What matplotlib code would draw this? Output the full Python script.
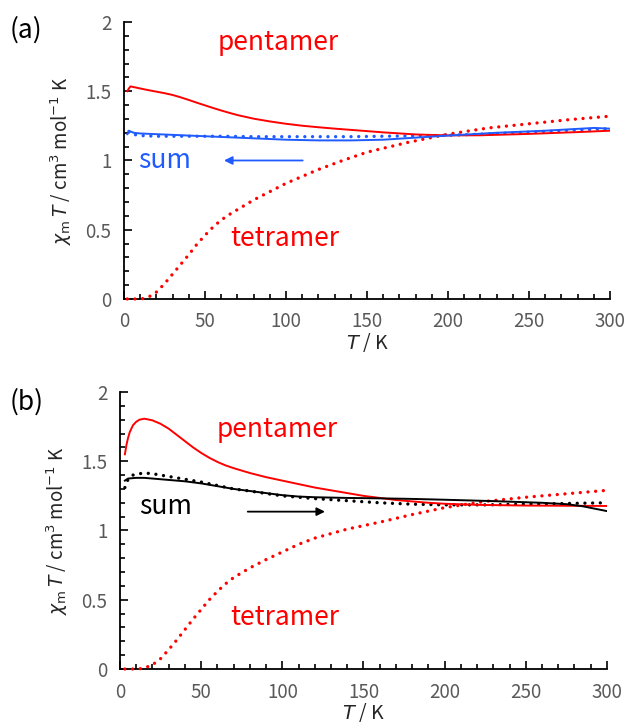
import matplotlib
matplotlib.use("Agg")
import matplotlib.pyplot as plt
from matplotlib.ticker import MultipleLocator

plt.rcParams["font.family"] = ["Noto Sans CJK JP", "DejaVu Sans"]
plt.rcParams["mathtext.fontset"] = "dejavusans"

RED = "#ff0000"
BLUE = "#1f5bff"
GRAY = "#595959"
LABEL = "#262626"

# ---- panel (a) ----
a_pent_T = [2, 3, 4, 6, 10, 15, 20, 25, 30, 35, 40, 45, 50, 55, 60, 65, 70, 80, 90, 100, 110, 120,
            130, 140, 160, 180, 200, 220, 250, 280, 300]
a_pent_v = [1.50, 1.52, 1.535, 1.53, 1.52, 1.508, 1.497, 1.486, 1.473, 1.456, 1.437, 1.417, 1.398,
            1.379, 1.361, 1.344, 1.328, 1.302, 1.282, 1.265, 1.251, 1.24, 1.23, 1.221, 1.203, 1.188,
            1.181, 1.182, 1.192, 1.205, 1.215]

a_sumfit_T = [2, 4, 6, 10, 20, 40, 60, 80, 100, 120, 140, 160, 180, 200, 230, 260, 290, 300]
a_sumfit_v = [1.19, 1.21, 1.20, 1.195, 1.19, 1.18, 1.17, 1.16, 1.15, 1.145, 1.145, 1.15, 1.165, 1.18,
              1.20, 1.215, 1.235, 1.23]

a_sum_T = [3, 5, 10, 20, 40, 60, 80, 100, 120, 140, 160, 180, 200, 220, 240, 260, 280, 300]
a_sum_v = [1.21, 1.19, 1.18, 1.175, 1.175, 1.175, 1.172, 1.172, 1.172, 1.172, 1.175, 1.178, 1.182,
           1.19, 1.20, 1.21, 1.22, 1.23]

a_tet_T = [2, 5, 10, 13, 16, 20, 25, 30, 35, 40, 45, 50, 55, 60, 65, 70, 80, 90, 100, 110, 120, 135,
           150, 175, 200, 225, 250, 275, 300]
a_tet_v = [0, 0, 0, 0.005, 0.02, 0.05, 0.11, 0.18, 0.25, 0.32, 0.395, 0.46, 0.52, 0.57, 0.61, 0.645,
           0.715, 0.775, 0.835, 0.885, 0.935, 1.00, 1.06, 1.13, 1.19, 1.235, 1.265, 1.295, 1.32]

# ---- panel (b) ----
b_pent_T = [3, 4, 5, 6, 8, 10, 12, 15, 18, 20, 25, 30, 35, 40, 45, 50, 55, 60, 65, 70, 80, 90, 100,
            110, 120, 130, 140, 150, 160, 170, 180, 190, 200, 220, 250, 300]
b_pent_v = [1.55, 1.62, 1.67, 1.71, 1.76, 1.785, 1.80, 1.807, 1.80, 1.795, 1.77, 1.735, 1.69, 1.645,
            1.60, 1.56, 1.525, 1.495, 1.47, 1.45, 1.415, 1.385, 1.36, 1.335, 1.31, 1.29, 1.27, 1.25,
            1.235, 1.22, 1.21, 1.20, 1.193, 1.185, 1.18, 1.177]

b_sumfit_T = [3, 5, 10, 15, 20, 30, 40, 50, 60, 70, 80, 90, 100, 110, 120, 140, 160, 180, 200, 230,
              260, 275, 285, 300]
b_sumfit_v = [1.36, 1.375, 1.38, 1.38, 1.375, 1.365, 1.355, 1.34, 1.32, 1.30, 1.285, 1.27, 1.255,
              1.245, 1.24, 1.235, 1.232, 1.228, 1.222, 1.212, 1.20, 1.19, 1.175, 1.14]

b_sum_T = [3, 5, 8, 12, 15, 20, 30, 40, 50, 60, 70, 80, 90, 100, 120, 140, 160, 180, 200, 225, 250,
           275, 300]
b_sum_v = [1.31, 1.37, 1.40, 1.41, 1.415, 1.41, 1.39, 1.37, 1.35, 1.325, 1.30, 1.285, 1.267, 1.25,
           1.23, 1.215, 1.20, 1.19, 1.185, 1.185, 1.19, 1.195, 1.20]

b_tet_T = [3, 10, 13, 16, 20, 25, 30, 35, 40, 45, 50, 55, 60, 65, 70, 80, 90, 100, 110, 120, 140,
           160, 180, 200, 225, 250, 275, 300]
b_tet_v = [0, 0, 0.003, 0.012, 0.03, 0.075, 0.14, 0.21, 0.285, 0.36, 0.43, 0.50, 0.56, 0.615, 0.66,
           0.73, 0.79, 0.845, 0.90, 0.945, 1.01, 1.06, 1.115, 1.165, 1.21, 1.24, 1.265, 1.29]

DOTS = dict(linestyle=(0, (0.01, 2.3)), linewidth=2.4, dash_capstyle="round", clip_on=False, zorder=3)
SOLID = dict(linewidth=1.4, zorder=3)


def style_axes(ax):
    ax.set_xlim(0, 300)
    ax.set_ylim(0, 2)
    for s in ("top", "right"):
        ax.spines[s].set_visible(False)
    for s in ("left", "bottom"):
        ax.spines[s].set_linewidth(1.3)
    ax.xaxis.set_major_locator(MultipleLocator(50))
    ax.xaxis.set_minor_locator(MultipleLocator(10))
    ax.yaxis.set_major_locator(MultipleLocator(0.5))
    ax.yaxis.set_minor_locator(MultipleLocator(0.1))
    ax.yaxis.set_major_formatter(lambda v, p: f"{v:g}")
    ax.tick_params(which="both", direction="in", labelsize=13.5, labelcolor=GRAY, width=1.2)
    ax.tick_params(which="major", length=5.5)
    ax.tick_params(which="minor", length=3.5)
    ax.tick_params(axis="x", pad=9)
    ax.tick_params(axis="y", pad=9)
    ax.set_xlabel(r"$T$ / K", fontsize=14, color=LABEL, labelpad=-1)
    ax.set_ylabel(r"$\chi_{\rm m}\,T$ / cm$^3$ mol$^{-1}$ K", fontsize=13.5, color=LABEL, labelpad=8)


fig = plt.figure(figsize=(6.27, 7.26), dpi=100)
ax1 = fig.add_axes([0.1978, 0.5882, 0.7751, 0.3815])
ax2 = fig.add_axes([0.1914, 0.0785, 0.7766, 0.3816])

# (a)
ax1.plot(a_tet_T, a_tet_v, color=RED, **DOTS)
ax1.plot(a_sum_T, a_sum_v, color=BLUE, **DOTS)
ax1.plot(a_pent_T, a_pent_v, color=RED, **SOLID)
ax1.plot(a_sumfit_T, a_sumfit_v, color=BLUE, **SOLID)
ax1.text(95, 1.855, "pentamer", color=RED, fontsize=19, ha="center", va="center")
ax1.text(99, 0.44, "tetramer", color=RED, fontsize=19, ha="center", va="center")
ax1.text(25, 1.0, "sum", color=BLUE, fontsize=19, ha="center", va="center")
ax1.annotate("", xy=(60, 1.0), xytext=(112, 1.0),
             arrowprops=dict(arrowstyle="-|>", color=BLUE, lw=1.3, mutation_scale=12))
style_axes(ax1)
fig.text(0.042, 0.958, "(a)", fontsize=19, ha="center", va="center")

# (b)
ax2.plot(b_tet_T, b_tet_v, color=RED, **DOTS)
ax2.plot(b_sum_T, b_sum_v, color="black", **DOTS)
ax2.plot(b_pent_T, b_pent_v, color=RED, **SOLID)
ax2.plot(b_sumfit_T, b_sumfit_v, color="black", **SOLID)
ax2.text(97, 1.726, "pentamer", color=RED, fontsize=19, ha="center", va="center")
ax2.text(101.5, 0.37, "tetramer", color=RED, fontsize=19, ha="center", va="center")
ax2.text(28, 1.17, "sum", color="black", fontsize=19, ha="center", va="center")
ax2.annotate("", xy=(128, 1.136), xytext=(77, 1.136),
             arrowprops=dict(arrowstyle="-|>", color="black", lw=1.3, mutation_scale=12))
style_axes(ax2)
fig.text(0.042, 0.446, "(b)", fontsize=19, ha="center", va="center")

fig.savefig("out.png", dpi=100)
